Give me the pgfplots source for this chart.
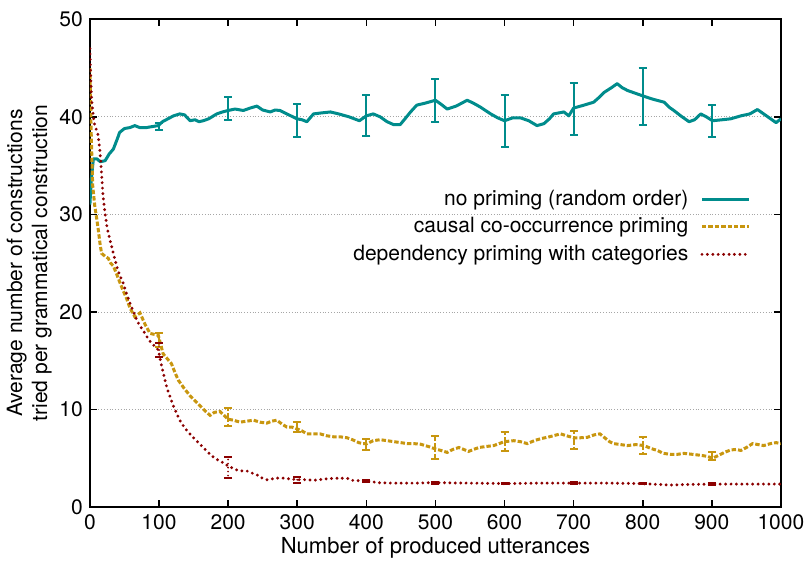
\documentclass[border=0pt]{standalone}
\usepackage{fontspec}
\setmainfont{TeX Gyre Heros}
\usepackage{pgfplots}
\pgfplotsset{compat=1.18}

\definecolor{tealc}{RGB}{0,140,140}
\definecolor{goldc}{RGB}{200,150,15}
\definecolor{redc}{RGB}{139,0,0}

\begin{document}
\begin{tikzpicture}[font=\fontsize{10.5}{12.5}\selectfont]
\begin{axis}[
    scale only axis,
    width=345pt,
    height=243.5pt,
    xmin=0, xmax=1000,
    ymin=0, ymax=50,
    xtick={0,100,...,1000},
    ytick={0,10,...,50},
    tick align=inside,
    major tick length=3.5pt,
    axis line style={line width=1pt},
    every tick/.style={line width=0.8pt, black},
    ymajorgrids=true,
    grid style={densely dotted, gray!70, line width=0.4pt},
    /pgf/number format/assume math mode=true,
    /pgf/number format/1000 sep={},
    xlabel={Number of produced utterances},
    ylabel={Average number of constructions\\tried per grammatical construction},
    ylabel style={align=center, yshift=-3pt},
    xlabel style={font=\fontsize{11}{13}\selectfont, yshift=3pt},
    legend plot pos=right,
    legend cell align=right,
    legend style={draw=none, fill=none, at={(0.965,0.667)}, anchor=north east,
        row sep=0.6pt, column sep=4pt, font=\fontsize{10.5}{12.5}\selectfont},
    legend image code/.code={\draw[#1] (0cm,0cm) -- (0.82cm,0cm);},
]

% --------------------------------------------------
% no priming (random order)
% --------------------------------------------------
\addplot[color=tealc, line width=1.5pt, line join=round]
coordinates {
    (0,31) (2,33.5) (5,35.7) (10,35.7) (15,35.4) (22,35.5) (28,36.2) (34,36.7)
    (40,37.8) (43,38.4) (50,38.8) (58,38.9) (65,39.1) (72,38.9) (82,38.9) (90,39.0)
    (99,39.1) (105,39.5) (113,39.8) (121,40.1) (130,40.3) (137,40.2) (145,39.6)
    (152,39.7) (158,39.5) (164,39.6) (172,39.8) (183.6,40.3) (192,40.5) (200,40.65)
    (210,40.8) (222,40.65) (232,40.9) (241.6,41.1) (250,40.7) (261,40.5) (268,40.7)
    (275,40.65) (285,40.3) (299.5,39.8) (307,39.7) (314,39.5) (323.6,40.3) (335,40.4)
    (348,40.5) (360,40.3) (375,40.0) (390,39.6) (400,40.1) (410,40.3) (420,40.0)
    (430,39.5) (439.6,39.2) (449,39.2) (456,39.8) (464,40.5) (473,41.2) (485,41.4)
    (500,41.7) (508,41.3) (517,40.8) (530,41.1) (546,41.7) (555,41.4) (565,41.0)
    (580,40.3) (590,39.9) (600,39.6) (612,39.9) (623,39.9) (635,39.6) (647,39.1)
    (657,39.3) (665,39.8) (671,40.3) (686,40.5) (693,40.1) (700,40.9) (715,41.2)
    (729,41.5) (737,42.0) (744,42.5) (755,43.0) (763,43.4) (770,43.0) (778,42.7)
    (790,42.4) (802,42.1) (815,41.8) (831,41.5) (838,41.0) (845,40.65) (855,40.1)
    (867,39.5) (875,39.7) (884,40.3) (892,40.0) (901,39.6) (915,39.7) (927.5,39.8)
    (942,40.1) (955,40.3) (966,40.75) (975,40.3) (985,39.8) (993,39.4) (1000,39.8)
};
\addlegendentry{no priming (random order)}

% --------------------------------------------------
% causal co-occurrence priming
% --------------------------------------------------
\addplot[color=goldc, line width=1.5pt, dash pattern=on 2.2pt off 1pt]
coordinates {
    (0,45) (2,38) (4,33) (7,30.9) (10,29.5) (12,28.5) (15,26.8) (17,26.0) (22,25.7)
    (26.5,25.5) (30,25.0) (34,24.7) (38,24.0) (43.5,23.0) (48,22.2) (53,21.4)
    (58,20.4) (65,19.5) (72.5,19.9) (80,18.7) (87,17.8) (93,17.7) (99,17.6)
    (106,15.7) (112,15.2) (118,14.7) (123,13.8) (128,13.0) (136,12.2) (145,11.4)
    (152,10.9) (159,10.4) (166,9.9) (174,9.4) (180,9.7) (188,9.8) (194,9.4) (200,9.0)
    (208,8.9) (217,8.7) (227,8.8) (237,8.9) (246,8.7) (256,8.6) (263,8.8) (270.5,8.9)
    (278,8.5) (285,8.2) (292,8.2) (300,8.0) (307,7.8) (314,7.5) (323,7.5) (333,7.5)
    (343,7.3) (352.6,7.2) (362,7.2) (372,7.1) (380,6.9) (389,6.6) (395,6.5) (401,6.5)
    (410,6.8) (420,6.9) (430,6.8) (440,6.7) (450,6.6) (459,6.5) (468,6.5) (478,6.45)
    (490,6.2) (500,5.95) (508,5.8) (517,5.6) (525,5.9) (534,6.1) (541,5.9) (548,5.7)
    (555,5.9) (563,6.1) (573,6.2) (584.5,6.3) (592,6.5) (600,6.7) (613.5,6.8)
    (623,6.7) (633,6.5) (643,6.8) (652,7.0) (665,7.2) (681,7.5) (690,7.3) (700,7.1)
    (710,7.1) (720,7.15) (730,7.4) (738,7.5) (745,7.1) (752,6.7) (758,6.5) (768,6.4)
    (778,6.3) (790,6.4) (802,6.3) (812,6.0) (821,5.8) (830,5.5) (840.6,5.4) (850,5.4)
    (860,5.5) (872,5.4) (884,5.3) (893,5.2) (901,5.0) (910,5.3) (918,5.6) (927.5,5.85)
    (935,5.9) (942,5.8) (950,6.1) (959,6.5) (967,6.4) (975,6.3) (985,6.5) (993,6.6)
    (1000,6.5)
};
\addlegendentry{causal co-occurrence priming}

% --------------------------------------------------
% dependency priming with categories
% --------------------------------------------------
\addplot[color=redc, line width=1.6pt, line cap=round, dash pattern=on 0pt off 2.7pt]
coordinates {
    (0,47) (1,44.5) (2.4,41.9) (5,40) (7,39.1) (10,38.6) (12,38.1) (14,36.8)
    (15.5,35.7) (17,34) (19,31.9) (21.7,30.2) (25,28.6) (29,27.4) (34,26) (38.6,24.7)
    (43,23.8) (48,23.0) (53,21.9) (58,20.9) (63,20.0) (67.6,19.2) (72,18.6) (77,18.1)
    (83,17.4) (89,16.8) (95,16.4) (99,16.1) (104,14.4) (108.7,13.0) (112,12.1)
    (116,11.3) (120,10.5) (125.6,9.6) (130,8.9) (135,8.35) (142,7.7) (150,7.1)
    (157,6.6) (164,6.1) (171,5.6) (179,5.1) (188,4.7) (194,4.5) (200,4.2) (206,4.0)
    (212.6,3.8) (220,3.7) (227,3.7) (234,3.5) (241.6,3.3) (248,3.0) (256,2.8)
    (265,2.9) (275,3.0) (287,2.9) (300,2.8) (312,2.8) (324,2.75) (338,2.85)
    (352.6,2.95) (362,2.95) (372,2.95) (381.6,2.7) (390,2.7) (401,2.7) (415.5,2.5)
    (440,2.45) (470,2.45) (500,2.5) (550,2.45) (600,2.4) (650,2.45) (700,2.45)
    (750,2.45) (800,2.4) (840,2.25) (860,2.3) (900,2.35) (950,2.35) (1000,2.35)
};
\addlegendentry{dependency priming with categories}

% --------------------------------------------------
% error bars every 100 utterances
% --------------------------------------------------
\addplot[forget plot, draw=none, mark=none,
    error bars/.cd, y dir=both, y explicit,
    error bar style={draw=tealc, line width=1pt, solid},
    error mark options={rotate=90, mark size=2pt, line width=1pt, draw=tealc}]
coordinates {
    (100,39.0) +- (0,0.35)
    (200,40.85) +- (0,1.15)
    (300,39.6) +- (0,1.7)
    (400,40.1) +- (0,2.1)
    (500,41.7) +- (0,2.2)
    (600,39.55) +- (0,2.65)
    (700,40.8) +- (0,2.7)
    (800,42.1) +- (0,2.9)
    (900,39.6) +- (0,1.65)
};

\addplot[forget plot, draw=none, mark=none,
    error bars/.cd, y dir=both, y explicit,
    error bar style={draw=goldc, line width=1pt, dash pattern=on 2.2pt off 1pt},
    error mark options={rotate=90, mark size=2pt, line width=1pt, draw=goldc}]
coordinates {
    (100,17.1) +- (0,0.7)
    (200,9.2) +- (0,0.9)
    (300,8.2) +- (0,0.5)
    (400,6.4) +- (0,0.6)
    (500,6.1) +- (0,1.2)
    (600,6.7) +- (0,0.95)
    (700,6.85) +- (0,0.9)
    (800,6.3) +- (0,0.85)
    (900,5.2) +- (0,0.4)
};

\addplot[forget plot, draw=none, mark=none,
    error bars/.cd, y dir=both, y explicit,
    error bar style={draw=redc, line width=0.9pt, line cap=round, dash pattern=on 0pt off 2pt},
    error mark options={rotate=90, mark size=2pt, line width=0.9pt, draw=redc}]
coordinates {
    (100,16.1) +- (0,0.7)
    (200,4.05) +- (0,1.1)
    (300,2.8) +- (0,0.3)
    (400,2.7) +- (0,0.1)
    (500,2.5) +- (0,0.1)
    (600,2.4) +- (0,0.1)
    (700,2.45) +- (0,0.1)
    (800,2.4) +- (0,0.1)
    (900,2.35) +- (0,0.1)
};

\end{axis}
% a little extra room above the plot, as in the reference
\path ([yshift=2.5pt]current bounding box.north);
\end{tikzpicture}
\end{document}
